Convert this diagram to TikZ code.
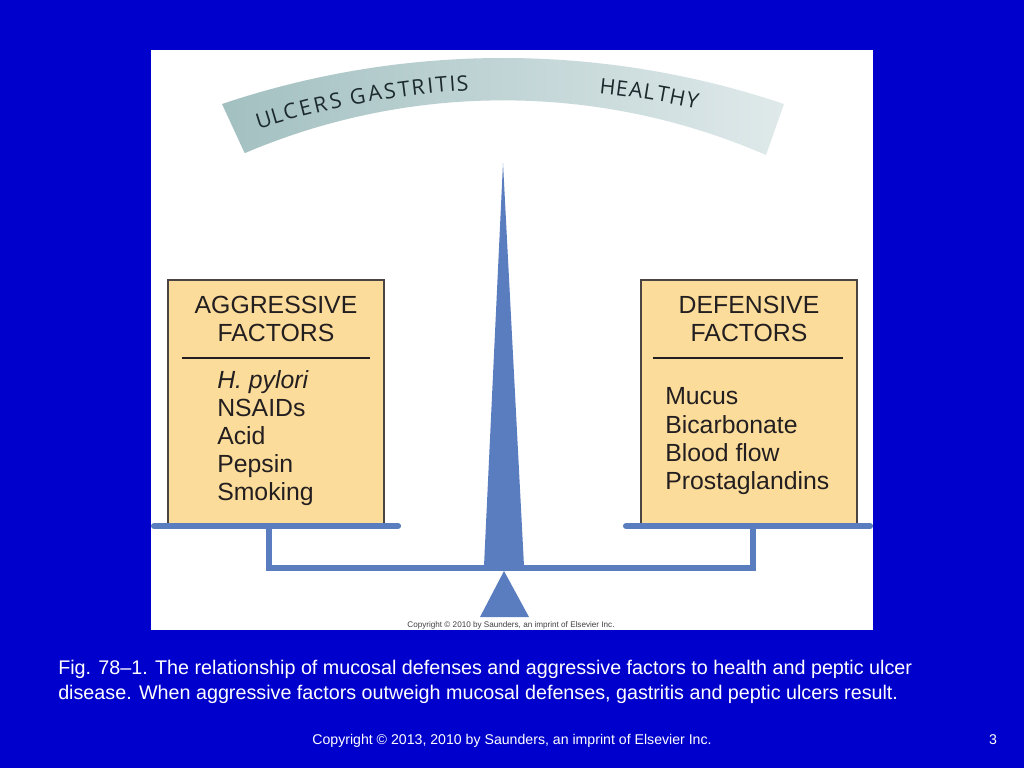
\documentclass[tikz,border=0pt]{standalone}
\usepackage{fontspec}
\setmainfont{Liberation Sans}
\newfontfamily\arcfont{Open Sans}
\definecolor{bgblue}{HTML}{0000CC}
\definecolor{boxfill}{HTML}{FCDC9A}
\definecolor{boxborder}{HTML}{4A4542}
\definecolor{steel}{HTML}{5A7DC0}
\definecolor{bandL}{HTML}{A3C0C1}
\definecolor{bandR}{HTML}{DFE9EA}
\definecolor{arctext}{HTML}{1C2A2E}
\definecolor{inktext}{HTML}{231F20}
\begin{document}
\begin{tikzpicture}[x=0.75pt,y=-0.75pt,
  factorbox/.style={draw=boxborder, line width=0.9pt, fill=boxfill, minimum width=162pt, minimum height=183pt, inner sep=0pt, outer sep=0pt},
  titletext/.style={font=\fontsize{18.6}{21}\selectfont, anchor=base, inner sep=0pt, text=inktext},
  itemtext/.style={font=\fontsize{18.6}{21}\selectfont, anchor=base west, inner sep=0pt, text=inktext},
  divider/.style={draw=inktext, line width=1.1pt},
  bar/.style={draw=steel, line width=4.6pt, line cap=round},
  link/.style={draw=steel, line width=4.2pt},
  arcletter/.style={font=\arcfont\fontsize{16}{16}\selectfont, anchor=base, inner sep=0pt, text=arctext},
  captiontext/.style={font=\fontsize{14.8}{17}\selectfont, text=white, anchor=base west, inner sep=0pt},
  footertext/.style={font=\fontsize{10.6}{12}\selectfont, text=white, anchor=base, inner sep=0pt}
]
\fill[bgblue] (0,0) rectangle (1024,768);
\useasboundingbox (0,0) rectangle (1024,768);
% white panel
\fill[white] (151,50) rectangle (873,630);

% curved band
\shade[left color=bandL, right color=bandR]
  (222,104) arc[start angle=-108.6, end angle=-71.4, radius=881]
  -- (766,155) arc[start angle=-66.5, end angle=-113.1, radius=659] -- cycle;

% band lettering
\foreach \ch/\px [count=\i] in {U/266, L/279, C/292, E/307, R/322, S/337, G/359, A/376, S/391, T/405, R/419, I/431, T/442, I/453, S/463} {
  \pgfmathsetmacro\ang{-90+asin((\px-515)/840)}
  \pgfmathsetmacro\rot{-90-(\ang)}
  \node[arcletter, rotate=\rot] (ul\i) at ([shift={(\ang:840)}]515,929) {\ch};
}
\foreach \ch/\px [count=\i] in {H/607, E/621, A/635, L/648, T/662, H/676, Y/691} {
  \pgfmathsetmacro\ang{-90+asin((\px-515)/840)}
  \pgfmathsetmacro\rot{-90-(\ang)}
  \node[arcletter, rotate=\rot] (hl\i) at ([shift={(\ang:840)}]515,929) {\ch};
}

% needle
\fill[steel] (503,163) -- (524,566) -- (484,566) -- cycle;

% boxes
\node[factorbox] (agg) at (276,402) {};
\node[factorbox] (def) at (749,402) {};

\node[titletext] (aggt1) at (276,313) {AGGRESSIVE};
\node[titletext] (aggt2) at (276,341) {FACTORS};
\draw[divider] (182,358) -- (370,358);
\node[itemtext] (a1) at (217,388) {\itshape H. pylori};
\node[itemtext] (a2) at (217,416) {NSAIDs};
\node[itemtext] (a3) at (217,444) {Acid};
\node[itemtext] (a4) at (217,472) {Pepsin};
\node[itemtext] (a5) at (217,500) {Smoking};

\node[titletext] (deft1) at (749,313) {DEFENSIVE};
\node[titletext] (deft2) at (749,341) {FACTORS};
\draw[divider] (653,358) -- (843,358);
\node[itemtext] (d1) at (665,404) {Mucus};
\node[itemtext] (d2) at (665,433) {Bicarbonate};
\node[itemtext] (d3) at (665,461) {Blood flow};
\node[itemtext] (d4) at (665,489) {Prostaglandins};

% balance bars
\coordinate (lpanL) at (154,526);
\coordinate (lpanR) at (398,526);
\coordinate (rpanL) at (626,526);
\coordinate (rpanR) at (870,526);
\coordinate (lstemT) at (269,526);
\coordinate (lstemB) at (269,568);
\coordinate (rstemT) at (753,526);
\coordinate (rstemB) at (753,568);
\draw[link] (lstemT) -- (lstemB) -- (rstemB) -- (rstemT);
\draw[bar] (lpanL) -- (lpanR);
\draw[bar] (rpanL) -- (rpanR);

% fulcrum
\fill[steel] (504,571) -- (529,617) -- (480,617) -- cycle;

\node[font=\fontsize{6.1}{7}\selectfont, text=black!75, anchor=base, inner sep=0pt] (copy1) at (511,627) {Copyright \textcopyright{} 2010 by Saunders, an imprint of Elsevier Inc.};

% caption
\node[captiontext] (cap1) at (58,674) {Fig. 78–1. The relationship of mucosal defenses and aggressive factors to health and peptic ulcer};
\node[captiontext] (cap2) at (58,699) {disease. When aggressive factors outweigh mucosal defenses, gastritis and peptic ulcers result.};

\node[footertext] (foot) at (512,744) {Copyright © 2013, 2010 by Saunders, an imprint of Elsevier Inc.};
\node[footertext] (pnum) at (993,744) {3};
\end{tikzpicture}
\end{document}
